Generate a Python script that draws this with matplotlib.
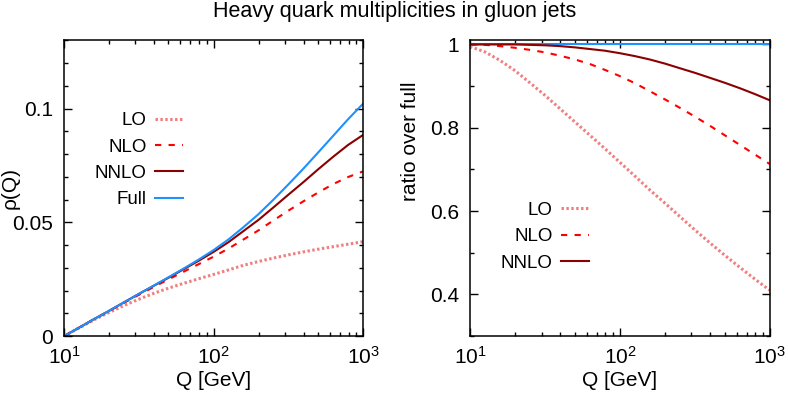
import numpy as np
import matplotlib
matplotlib.use("Agg")
import matplotlib.pyplot as plt
from matplotlib.ticker import LogLocator, MultipleLocator, NullFormatter

plt.rcParams["font.family"] = ["Liberation Sans", "DejaVu Sans"]
plt.rcParams["mathtext.fontset"] = "custom"
plt.rcParams["mathtext.rm"] = "Liberation Sans"

# Q values [GeV]
q = [10, 12.6, 15.8, 20, 25.1, 31.6, 39.8, 50.1, 63.1, 79.4, 100,
     126, 158, 200, 251, 316, 398, 501, 631, 794, 1000]

# left panel: rho(Q)
rho_lo = [0.0, 0.0036, 0.0071, 0.0104, 0.0134, 0.0162, 0.0188, 0.0211, 0.0232, 0.0252, 0.0271,
          0.0291, 0.0311, 0.0328, 0.0343, 0.0357, 0.0370, 0.0382, 0.0393, 0.0404, 0.0415]
rho_nlo = [0.0, 0.0037, 0.0074, 0.0110, 0.0146, 0.0181, 0.0216, 0.0250, 0.0283, 0.0316, 0.0349,
           0.0385, 0.0424, 0.0465, 0.0508, 0.0551, 0.0592, 0.0631, 0.0668, 0.0699, 0.0724]
rho_nnlo = [0.0, 0.0037, 0.0074, 0.0111, 0.0148, 0.0185, 0.0221, 0.0257, 0.0294, 0.0331, 0.0370,
            0.0413, 0.0461, 0.0511, 0.0565, 0.0621, 0.0676, 0.0733, 0.0788, 0.0840, 0.0884]
rho_full = [0.0, 0.0037, 0.0074, 0.0111, 0.0148, 0.0185, 0.0222, 0.0259, 0.0297, 0.0336, 0.0378,
            0.0425, 0.0478, 0.0536, 0.0599, 0.0666, 0.0735, 0.0807, 0.0880, 0.0953, 0.1021]

# right panel: ratio over full
r_lo = [0.995, 0.982, 0.962, 0.937, 0.908, 0.878, 0.846, 0.814, 0.782, 0.750, 0.717,
        0.684, 0.651, 0.619, 0.587, 0.555, 0.524, 0.494, 0.465, 0.437, 0.410]
r_nlo = [1.0, 0.999, 0.996, 0.992, 0.987, 0.981, 0.973, 0.964, 0.953, 0.939, 0.924,
         0.907, 0.888, 0.868, 0.848, 0.827, 0.805, 0.782, 0.759, 0.736, 0.713]
r_nnlo = [1.0, 1.0, 1.0, 1.0, 0.999, 0.998, 0.996, 0.993, 0.989, 0.985, 0.979,
          0.972, 0.964, 0.954, 0.943, 0.932, 0.920, 0.908, 0.895, 0.881, 0.866]
r_full = [1.0] * len(q)

c_lo = "#f08080"
c_nlo = "#ff0000"
c_nnlo = "#8b0000"
c_full = "#1e90ff"

fig = plt.figure(figsize=(7.89, 3.95), dpi=100)
ax1 = fig.add_axes([0.0811, 0.149, 0.379, 0.749])
ax2 = fig.add_axes([0.5957, 0.149, 0.380, 0.749])

lo_style = dict(color=c_lo, lw=2.2, dashes=(0.8, 0.8))
nlo_style = dict(color=c_nlo, lw=1.5, dashes=(3, 3.5))
nnlo_style = dict(color=c_nnlo, lw=1.5)
full_style = dict(color=c_full, lw=1.5)

ax1.plot(q, rho_lo, label="LO", **lo_style)
ax1.plot(q, rho_nlo, label="NLO", **nlo_style)
ax1.plot(q, rho_nnlo, label="NNLO", **nnlo_style)
ax1.plot(q, rho_full, label="Full", **full_style)

ax2.plot(q, r_full, **full_style)
ax2.plot(q, r_lo, label="LO", **lo_style)
ax2.plot(q, r_nlo, label="NLO", **nlo_style)
ax2.plot(q, r_nnlo, label="NNLO", **nnlo_style)

for ax in (ax1, ax2):
    ax.set_xscale("log")
    ax.set_xlim(10, 1000)
    ax.xaxis.set_major_locator(LogLocator(base=10, numticks=10))
    ax.xaxis.set_minor_locator(LogLocator(base=10, subs=np.arange(2, 10), numticks=10))
    ax.xaxis.set_minor_formatter(NullFormatter())
    ax.tick_params(which="both", direction="in", top=True, right=True, labelsize=15, width=1)
    ax.tick_params(which="major", length=6)
    ax.tick_params(which="minor", length=3)
    ax.tick_params(axis="y", which="major", pad=8)
    ax.tick_params(axis="x", which="major", pad=7)
    for s in ax.spines.values():
        s.set_linewidth(1.1)
    ax.set_xlabel("Q [GeV]", fontsize=15, labelpad=2)

ax1.set_ylim(0, 0.13)
ax1.yaxis.set_minor_locator(MultipleLocator(0.01))
ax1.set_yticks([0, 0.05, 0.1])
ax1.set_yticklabels(["0", "0.05", "0.1"])
ax1.set_ylabel("ρ(Q)", fontsize=15)
ax1.yaxis.set_label_coords(-0.147, 0.5)

ax2.set_ylim(0.3, 1.01)
ax2.yaxis.set_minor_locator(MultipleLocator(0.1))
ax2.set_yticks([0.4, 0.6, 0.8, 1.0])
ax2.set_yticklabels(["0.4", "0.6", "0.8", "1"])
ax2.set_ylabel("ratio over full", fontsize=15)
ax2.yaxis.set_label_coords(-0.168, 0.66)

leg_kw = dict(frameon=False, markerfirst=False, fontsize=13.5, handlelength=1.5,
              handletextpad=0.45, labelspacing=0.49, borderpad=0, borderaxespad=0)
ax1.legend(loc="upper right", bbox_to_anchor=(0.398, 0.757), **leg_kw)
ax2.legend(loc="upper right", bbox_to_anchor=(0.397, 0.454), **leg_kw)

fig.suptitle("Heavy quark multiplicities in gluon jets", fontsize=15.5, y=0.997)

fig.savefig("out.png", dpi=100)
